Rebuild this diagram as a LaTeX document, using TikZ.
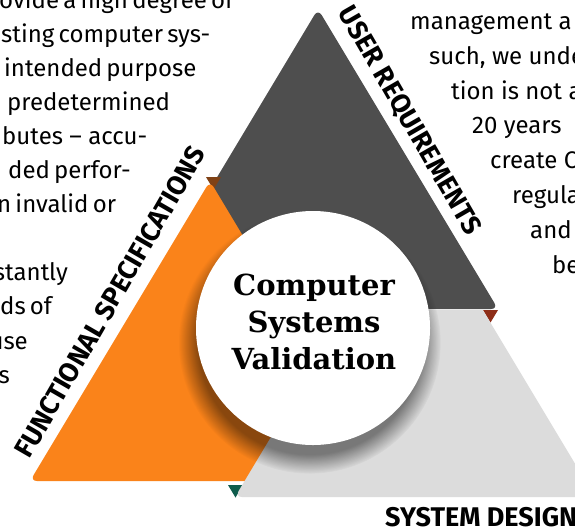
\documentclass[tikz,border=0pt]{standalone}
\usepackage{fontspec}
\setmainfont{Fira Sans}
\newfontfamily\slabfont{DejaVu Serif}
\usepackage{tikz}
\usetikzlibrary{shadows,fadings}

\definecolor{darkgrey}{RGB}{78,78,78}
\definecolor{triorange}{RGB}{250,131,26}
\definecolor{lightgrey}{RGB}{220,220,220}
\definecolor{foldbrown}{RGB}{128,66,22}
\definecolor{foldred}{RGB}{142,46,24}
\definecolor{foldgreen}{RGB}{14,92,76}

\tikzset{
  bodytext/.style={inner sep=0pt, anchor=base west, font=\fontsize{24}{24}\selectfont},
  edgefont/.style={inner sep=0pt, font=\bfseries\fontsize{27}{27}\selectfont},
}

% one block of the pyramid, apex given, 360 wide and 300 high
\def\blocktri[#1](#2,#3){\fill[#1,rounded corners=7pt] (#2,#3) -- ++(180,300) -- ++(-360,0) -- cycle;}
% little fold under a corner
\def\fold[#1](#2,#3){\fill[#1] (#2,#3) -- ++(15,0) -- ++(-7.5,12.5) -- cycle;}
% a justified line of the page text, spread to a given width
\newcommand\jline[2]{\makebox[#1pt][s]{#2}}

\begin{document}
\begin{tikzpicture}[x=1pt,y=-1pt]
    %%%%% START %%%%%
    \useasboundingbox (0,0) rectangle (575,531);
    \clip (0,0) rectangle (575,531);
    \fill[white] (0,0) rectangle (575,531);

    % page text wrapped round the pyramid
    \node[bodytext] (left-1) at (-1,8.5) {\jline{230}{ovide a high degree of}};
    \node[bodytext] (left-2) at (1,42.5) {\jline{201}{sting computer sys-}};
    \node[bodytext] (left-3) at (4,76.5) {\jline{184}{intended purpose}};
    \node[bodytext] (left-4) at (7,110) {predetermined};
    \node[bodytext] (left-5) at (2,144) {\jline{145}{butes -- accu-}};
    \node[bodytext] (left-6) at (8,178) {\jline{120}{ded perfor-}};
    \node[bodytext] (left-7) at (-3,212) {\jline{113}{n invalid or}};
    \node[bodytext,anchor=base east] (left-8) at (68,280) {stantly};
    \node[bodytext] (left-9) at (0,314.5) {\jline{50}{ds of}};
    \node[bodytext,anchor=base east] (left-10) at (28,349) {use};
    \node[bodytext,anchor=base east] (left-11) at (10,383) {s};

    \node[bodytext] (right-1) at (410,29) {management a};
    \node[bodytext] (right-2) at (429,64) {such, we unde};
    \node[bodytext] (right-3) at (451,99) {tion is not a};
    \node[bodytext] (right-4) at (472,133.5) {20 years};
    \node[bodytext] (right-5) at (490,168.5) {create C};
    \node[bodytext] (right-6) at (512,203) {regula};
    \node[bodytext] (right-7) at (530,238) {and};
    \node[bodytext] (right-8) at (552,273) {be};

    % the three blocks
    \blocktri[darkgrey](318,9)
    \fold[foldbrown](206,177)
    \fold[foldred](483,310)
    \fold[foldgreen](228,485)
    \blocktri[triorange](210,181)
    \begin{scope}
        \clip (0,310) rectangle (575,531);
        \blocktri[lightgrey](415,197)
    \end{scope}

    % hub
    \fill[white,circular drop shadow={shadow xshift=-3pt,shadow yshift=-13pt,shadow scale=1.12,fill=black,opacity=.45}] (313,328) circle (117);
    \node[font=\slabfont\bfseries\fontsize{29}{37}\selectfont,align=center] (title) at (314,322) {Computer\\Systems\\Validation};

    % captions along the edges
    \node[edgefont,rotate=-60] (userreq) at (409,121) {USER REQUIREMENTS};
    \node[edgefont,rotate=60] (funcspec) at (110,302) {FUNCTIONAL SPECIFICATIONS};
    \node[edgefont,anchor=base west] (sysdesign) at (385,526) {SYSTEM DESIGN};
    %%%%% END %%%%%
\end{tikzpicture}
\end{document}
